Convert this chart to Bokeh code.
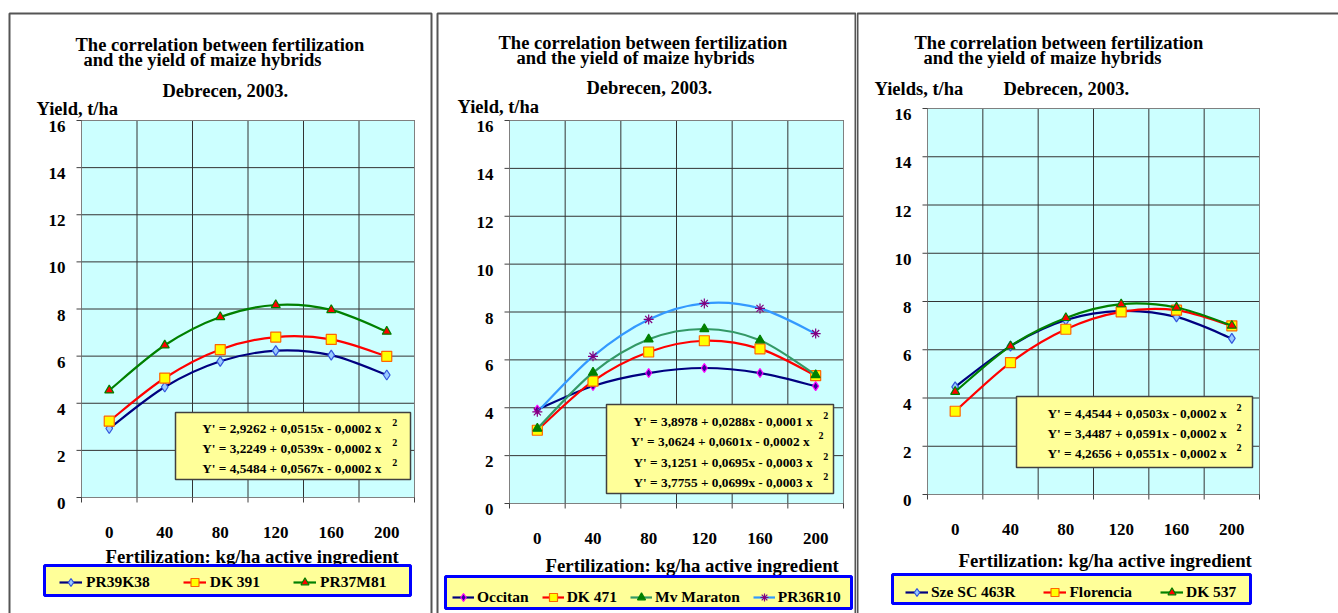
from bokeh.plotting import figure
from bokeh.models import Range1d, Label, BoxAnnotation, Legend, LegendItem, ColumnDataSource
from bokeh.core.properties import value
from bokeh.layouts import row
from bokeh.embed import file_html
from bokeh.resources import INLINE

# ---------------- data ----------------
fert = [0, 40, 80, 120, 160, 200]
fert_labels = ["0", "40", "80", "120", "160", "200"]
cell_edges = [-20, 20, 60, 100, 140, 180, 220]
y_ticks = [0, 2, 4, 6, 8, 10, 12, 14, 16]
y_labels = ["0", "2", "4", "6", "8", "10", "12", "14", "16"]
X_MIN, X_MAX, Y_MIN, Y_MAX = -20, 220, 0, 16

title_line1 = "The correlation between fertilization"
title_line2 = "and the yield of maize hybrids"
subtitle = "Debrecen, 2003."
x_title = "Fertilization: kg/ha active ingredient"

p1_names = ["PR39K38", "DK 391", "PR37M81"]
p1_pr39k38 = [2.93, 4.69, 5.78, 6.23, 6.04, 5.20]
p1_dk391 = [3.24, 5.07, 6.28, 6.81, 6.71, 5.99]
p1_pr37m81 = [4.55, 6.46, 7.66, 8.17, 7.96, 7.04]
p1_equations = ["Y' = 2,9262 + 0,0515x - 0,0002 x",
                "Y' = 3,2249 + 0,0539x - 0,0002 x",
                "Y' = 4,5484 + 0,0567x - 0,0002 x"]

p2_names = ["Occitan", "DK 471", "Mv Maraton", "PR36R10"]
p2_occitan = [3.92, 4.91, 5.45, 5.66, 5.45, 4.90]
p2_dk471 = [3.06, 5.11, 6.33, 6.80, 6.46, 5.34]
p2_mvmaraton = [3.13, 5.47, 6.86, 7.29, 6.82, 5.37]
p2_pr36r10 = [3.83, 6.15, 7.69, 8.36, 8.15, 7.10]
p2_equations = ["Y' = 3,8978 + 0,0288x - 0,0001 x",
                "Y' = 3,0624 + 0,0601x - 0,0002 x",
                "Y' = 3,1251 + 0,0695x - 0,0003 x",
                "Y' = 3,7755 + 0,0699x - 0,0003 x"]

p3_names = ["Sze SC 463R", "Florencia", "DK 537"]
p3_sze = [4.46, 6.15, 7.23, 7.61, 7.36, 6.47]
p3_florencia = [3.45, 5.47, 6.85, 7.57, 7.64, 6.99]
p3_dk537 = [4.26, 6.15, 7.32, 7.89, 7.75, 7.00]
p3_equations = ["Y' = 4,4544 + 0,0503x - 0,0002 x",
                "Y' = 3,4487 + 0,0591x - 0,0002 x",
                "Y' = 4,2656 + 0,0551x - 0,0002 x"]

FONT = "Liberation Serif"
H = 613

# ---------------- styles ----------------
st_diamond = dict(line="#000080", marker="diamond", fill="#99CCFF", mline="#3355DD", size=10)
st_square = dict(line="#FF0000", marker="square", fill="#FFFF00", mline="#FF6600", size=10)
st_triangle = dict(line="#008000", marker="triangle", fill="#FF0000", mline="#008000", size=9)
st_occ = dict(line="#000080", marker="diamond", fill="#330099", mline="#FF00FF", size=9)
st_mv = dict(line="#339966", marker="triangle", fill="#008000", mline="#008000", size=9)
st_pr36 = dict(line="#3399FF", marker="asterisk", fill="#800080", mline="#800080", size=10)


def smooth_source(xs, ys):
    n = len(xs)
    d = dict(x0=[], y0=[], x1=[], y1=[], cx0=[], cy0=[], cx1=[], cy1=[])
    for i in range(n - 1):
        xp, yp = (xs[i - 1], ys[i - 1]) if i > 0 else (xs[i], ys[i])
        xn, yn = (xs[i + 2], ys[i + 2]) if i + 2 < n else (xs[i + 1], ys[i + 1])
        d["x0"].append(xs[i]); d["y0"].append(ys[i])
        d["x1"].append(xs[i + 1]); d["y1"].append(ys[i + 1])
        d["cx0"].append(xs[i] + (xs[i + 1] - xp) / 6.0)
        d["cy0"].append(ys[i] + (ys[i + 1] - yp) / 6.0)
        d["cx1"].append(xs[i + 1] - (xn - xs[i]) / 6.0)
        d["cy1"].append(ys[i + 1] - (yn - ys[i]) / 6.0)
    return ColumnDataSource(d)


def canvas_label(p, text, x, y, size, align="left"):
    p.add_layout(Label(x=x, y=y, x_units="canvas", y_units="canvas", text=text,
                       text_font=FONT, text_font_style="bold", text_font_size=size,
                       text_color="black", text_align=align, text_baseline="alphabetic"))


def canvas_box(p, l, r, t, b, **kw):
    p.add_layout(BoxAnnotation(left=l, right=r, top=t, bottom=b,
                               left_units="canvas", right_units="canvas",
                               top_units="canvas", bottom_units="canvas", **kw))


def make_panel(cfg):
    W = cfg["w"]
    L, R, T, B = cfg["area"]          # pixel box of the plotting area inside the canvas
    sx = (X_MAX - X_MIN) / (R - L)    # data units per pixel
    sy = (Y_MAX - Y_MIN) / (B - T)
    p = figure(width=W, height=H,
               x_range=Range1d(X_MIN - L * sx, X_MAX + (W - R) * sx),
               y_range=Range1d(Y_MIN - (H - B) * sy, Y_MAX + T * sy),
               output_backend="svg", toolbar_location=None,
               x_axis_location=None, y_axis_location=None,
               min_border=0, min_border_left=0, min_border_right=0,
               min_border_top=0, min_border_bottom=0)
    p.grid.visible = False
    p.background_fill_color = "white"
    p.border_fill_color = "white"
    p.outline_line_color = None

    # plotting area, grid, outline
    p.quad(left=[X_MIN], right=[X_MAX], bottom=[Y_MIN], top=[Y_MAX],
           fill_color="#CCFFFF", line_color=None)
    p.segment(x0=cell_edges, x1=cell_edges, y0=[Y_MIN] * len(cell_edges),
              y1=[Y_MAX] * len(cell_edges), line_color="#333333", line_width=1)
    p.segment(x0=[X_MIN] * len(y_ticks), x1=[X_MAX] * len(y_ticks), y0=y_ticks,
              y1=y_ticks, line_color="#333333", line_width=1)
    p.quad(left=[X_MIN], right=[X_MAX], bottom=[Y_MIN], top=[Y_MAX],
           fill_color=None, line_color="#808080", line_width=1)

    # y axis ticks and labels
    p.segment(x0=[X_MIN] * len(y_ticks), x1=[X_MIN - 5 * sx] * len(y_ticks),
              y0=y_ticks, y1=y_ticks, line_color="#404040", line_width=1)
    p.text(x=[X_MIN - 16 * sx] * len(y_ticks), y=[v - 6 * sy for v in y_ticks], text=y_labels,
           text_font=value(FONT), text_font_style="bold", text_font_size="17px",
           text_align="right", text_baseline="alphabetic", text_color="black")
    # x axis ticks and labels
    p.segment(x0=cell_edges, x1=cell_edges, y0=[Y_MIN] * len(cell_edges),
              y1=[Y_MIN - 5 * sy] * len(cell_edges), line_color="#404040", line_width=1)
    p.text(x=fert, y=[Y_MIN - 35 * sy] * len(fert), text=fert_labels,
           text_font=value(FONT), text_font_style="bold", text_font_size="17px",
           text_align="center", text_baseline="alphabetic", text_color="black")

    items = []
    for name, ys, st in zip(cfg["names"], cfg["series"], cfg["styles"]):
        lr = p.bezier(x0="x0", y0="y0", x1="x1", y1="y1", cx0="cx0", cy0="cy0",
                      cx1="cx1", cy1="cy1", source=smooth_source(fert, ys),
                      line_color=st["line"], line_width=2.2)
        sr = p.scatter(fert, ys, marker=st["marker"], size=st["size"], fill_color=st["fill"],
                       line_color=st["mline"], line_width=1.2)
        items.append(LegendItem(label=name, renderers=[lr, sr]))

    # panel frame
    fl, ft, fr = cfg["frame"]
    canvas_box(p, fl, fr, ft, H + 50, fill_alpha=0, line_color="#555555",
               line_alpha=1, line_width=2)

    # texts
    for text, x, y in cfg["texts"]:
        canvas_label(p, text, x, y, "18.5px")
    xt, xx, xy = cfg["xlabel"]
    canvas_label(p, xt, xx, xy, "18.8px")

    # equation box
    bl, br, bt, bb = cfg["eqbox"]
    canvas_box(p, bl, br, bt, bb, fill_color="#FFFF99", fill_alpha=1,
               line_color="#404040", line_alpha=1, line_width=1.5)
    for eq, ex, ey, supx in zip(cfg["eqs"], cfg["eqx"], cfg["eqy"], cfg["supx"]):
        canvas_label(p, eq, ex, ey, "13.3px")
        canvas_label(p, "2", supx, ey - 6, "10px")

    # legend box + legend
    ll, lrt, lt, lb = cfg["legbox"]
    canvas_box(p, ll, lrt, lt, lb, fill_color="#FFFF99", fill_alpha=1,
               line_color="#0000FF", line_alpha=1, line_width=3)
    leg = Legend(items=items, orientation="horizontal", location=cfg["legloc"],
                 padding=5, spacing=cfg["legspace"], glyph_width=cfg["glyphw"], glyph_height=20,
                 label_standoff=cfg["legstand"], label_text_font=FONT,
                 label_text_font_style="bold", label_text_font_size="15.5px",
                 label_text_color="black", background_fill_alpha=0,
                 border_line_color=None, margin=0)
    p.add_layout(leg)
    return p


cfg1 = dict(w=434, area=(81, 414, 120, 497), frame=(9, 13, 431),
            names=p1_names, series=[p1_pr39k38, p1_dk391, p1_pr37m81],
            styles=[st_diamond, st_square, st_triangle],
            texts=[(title_line1, 75, 44.3), (title_line2, 83, 59.3),
                   (subtitle, 162, 90), ("Yield, t/ha", 36, 108.3)],
            xlabel=(x_title, 105, 556),
            eqbox=(175, 410, 412, 479), eqs=p1_equations,
            eqx=[201.7, 201.7, 201.7], eqy=[428.3, 448.3, 468.3], supx=[391.7, 391.7, 391.7],
            legbox=(44, 410, 565, 595), legloc=(59, 21), legspace=33, glyphw=23, legstand=4)

cfg2 = dict(w=422, area=(75, 409, 120, 503), frame=(3, 13, 421),
            names=p2_names, series=[p2_occitan, p2_dk471, p2_mvmaraton, p2_pr36r10],
            styles=[st_occ, st_square, st_mv, st_pr36],
            texts=[(title_line1, 64, 42.7), (title_line2, 82, 57.3),
                   (subtitle, 152, 87.3), ("Yield, t/ha", 23, 106)],
            xlabel=(x_title, 111, 565),
            eqbox=(172, 399, 404, 493), eqs=p2_equations,
            eqx=[199, 196, 199, 199], eqy=[420.7, 440.7, 461.7, 481.7],
            supx=[388.7, 384, 388.7, 388.7],
            legbox=(11, 417, 576, 608), legloc=(18, 6), legspace=13, glyphw=22, legstand=3)

cfg3 = dict(w=482, area=(71, 403, 108, 494), frame=(1, 13, 700),
            names=p3_names, series=[p3_sze, p3_florencia, p3_dk537],
            styles=[st_diamond, st_square, st_triangle],
            texts=[(title_line1, 58, 42.7), (title_line2, 67, 57.7),
                   ("Yields, t/ha", 18, 88.3), (subtitle, 147, 88.3)],
            xlabel=(x_title, 102, 560),
            eqbox=(160, 396, 396, 467), eqs=p3_equations,
            eqx=[191, 191, 191], eqy=[413.3, 433.3, 453.3], supx=[380, 380, 380],
            legbox=(36, 394, 574, 603), legloc=(49, 11.5), legspace=28, glyphw=23, legstand=3)

p1 = make_panel(cfg1)
p2 = make_panel(cfg2)
p3 = make_panel(cfg3)

layout = row(p1, p2, p3)
open("out.html", "w").write(file_html(layout, INLINE))
